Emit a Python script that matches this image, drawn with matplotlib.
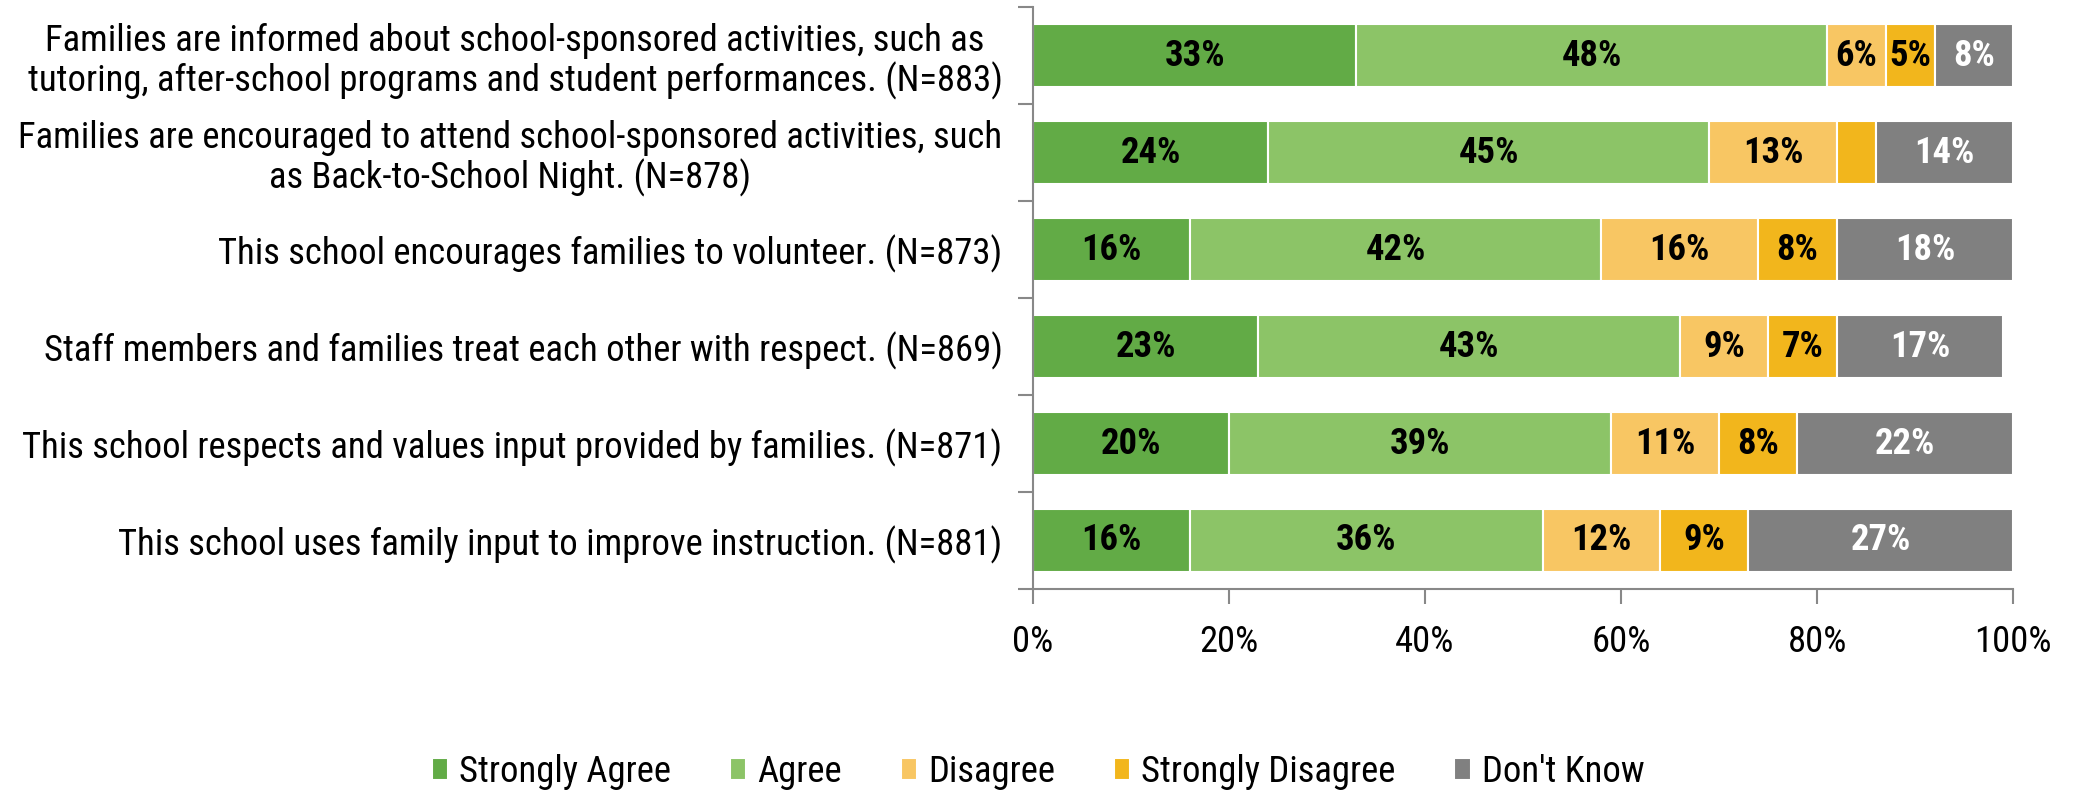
import matplotlib
matplotlib.use("Agg")
import matplotlib.pyplot as plt
import matplotlib.font_manager as fm
import numpy as np

categories = [
    "Families are informed about school-sponsored activities, such as\ntutoring, after-school programs and student performances. (N=883)",
    "Families are encouraged to attend school-sponsored activities, such\nas Back-to-School Night. (N=878)",
    "This school encourages families to volunteer. (N=873)",
    "Staff members and families treat each other with respect. (N=869)",
    "This school respects and values input provided by families. (N=871)",
    "This school uses family input to improve instruction. (N=881)",
]
series_names = ["Strongly Agree", "Agree", "Disagree", "Strongly Disagree", "Don't Know"]
strongly_agree = [33, 24, 16, 23, 20, 16]
agree = [48, 45, 42, 43, 39, 36]
disagree = [6, 13, 16, 9, 11, 12]
strongly_disagree = [5, 4, 8, 7, 8, 9]
dont_know = [8, 14, 18, 17, 22, 27]
show_label = [
    [True] * 6,
    [True] * 6,
    [True] * 6,
    [True, False, True, True, True, True],
    [True] * 6,
]
xticks = [0, 20, 40, 60, 80, 100]
xtick_labels = ["0%", "20%", "40%", "60%", "80%", "100%"]

colors = ["#62AB46", "#8CC467", "#F8C663", "#F2B61C", "#808080"]
text_colors = ["black", "black", "black", "black", "white"]

# pick a narrow font if available
names = {f.name for f in fm.fontManager.ttflist}
stretch_ok = set()
for f in fm.fontManager.ttflist:
    st = f.stretch
    if (isinstance(st, str) and 'condensed' in st) or (isinstance(st, (int, float)) and st < 500):
        stretch_ok.add(f.name)
family = None
stretch = 'normal'
for cand in ['Liberation Sans Narrow', 'Roboto Condensed', 'Open Sans Condensed',
             'Noto Sans Condensed', 'DejaVu Sans Condensed']:
    if cand in names:
        family = cand
        break
if family is None:
    for cand in ['Noto Sans', 'Open Sans', 'Roboto', 'DejaVu Sans']:
        if cand in stretch_ok:
            family = cand
            stretch = 'condensed'
            break
if family is None:
    family = 'Lato' if 'Lato' in names else 'DejaVu Sans'
plt.rcParams['font.family'] = [family, 'DejaVu Sans']
plt.rcParams['font.stretch'] = stretch

fig = plt.figure(figsize=(20.76, 7.93), dpi=100)

# fit font size so the longest label line is as wide as in the reference (~975 px)
renderer = fig.canvas.get_renderer()
probe = fig.text(0, 0, "tutoring, after-school programs and student performances. (N=883)", fontsize=24)
w = probe.get_window_extent(renderer).width
probe.remove()
fs = 24 * 975.0 / w
fs = min(fs, 29)

ax = fig.add_axes([0.4976, 0.2573, 0.9697 - 0.4976, 0.991 - 0.2573])

data = [strongly_agree, agree, disagree, strongly_disagree, dont_know]
y = np.arange(len(categories))
left = np.zeros(len(categories))
handles = []
for i, vals in enumerate(data):
    vals = np.array(vals, dtype=float)
    bars = ax.barh(y, vals, left=left, height=0.65, color=colors[i],
                   edgecolor='white', linewidth=1.5, label=series_names[i])
    handles.append(bars)
    for j, v in enumerate(vals):
        if show_label[i][j]:
            ax.text(left[j] + v / 2, y[j], f"{int(v)}%", ha='center', va='center',
                    fontsize=fs, fontweight='bold', color=text_colors[i])
    left += vals

ax.set_ylim(len(categories) - 0.5, -0.5)
ax.set_xlim(0, 100)
ax.set_xticks(xticks)
ax.set_xticklabels(xtick_labels, fontsize=fs)
ax.set_yticks(y)
ax.set_yticklabels(categories, fontsize=fs, multialignment='center', linespacing=1.1)
ax.set_yticks(np.arange(len(categories) + 1) - 0.5, minor=True)
ax.tick_params(axis='y', which='major', length=0, pad=22)
ax.tick_params(axis='y', which='minor', length=11, width=1.5, color='#888888', direction='out')
ax.tick_params(axis='x', length=11, width=1.5, color='#888888', direction='out', pad=14)
for s in ['top', 'right']:
    ax.spines[s].set_visible(False)
for s in ['left', 'bottom']:
    ax.spines[s].set_color('#888888')
    ax.spines[s].set_linewidth(1.5)

fig.legend(handles=handles, labels=series_names, loc='center', bbox_to_anchor=(0.5, 0.027),
           ncol=5, frameon=False, fontsize=fs, handlelength=0.45, handleheight=0.55,
           handletextpad=0.3, columnspacing=1.6)

fig.savefig("out.png", dpi=100)
